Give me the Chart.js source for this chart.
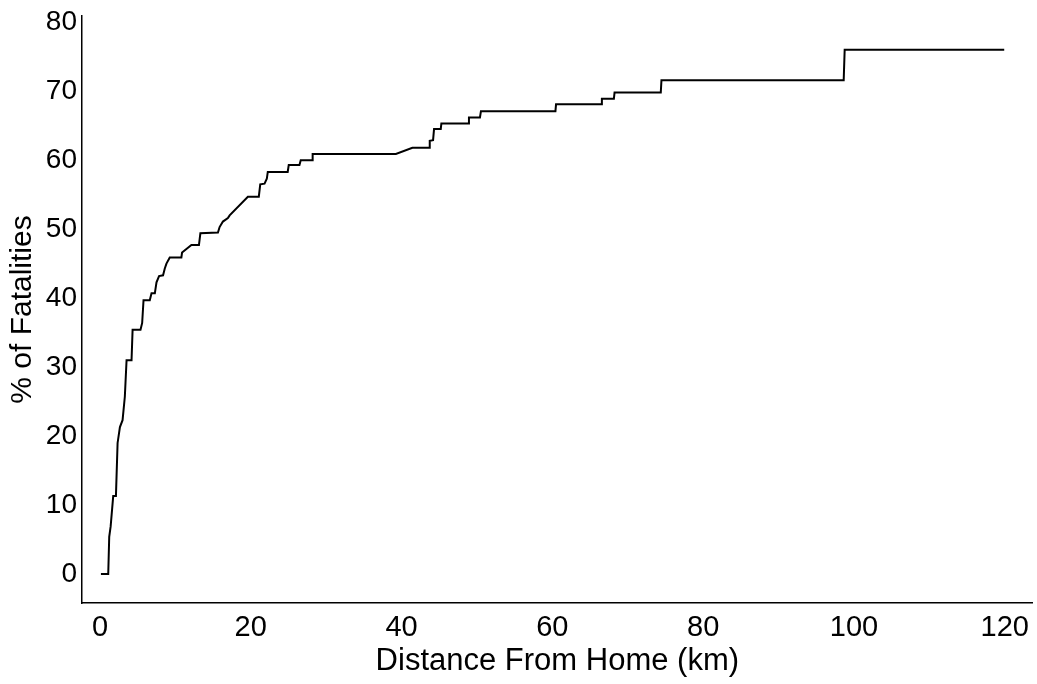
<!DOCTYPE html>
<html lang="en">
<head>
    <meta charset="UTF-8">
    <title>Fatalities by Distance From Home</title>
    <script src="https://cdn.jsdelivr.net/npm/chart.js"></script>
    <style>
        html, body { margin: 0; padding: 0; background: #fff; }
        #wrap { width: 1037px; height: 684px; }
    </style>
</head>
<body>
    <div id="wrap"><canvas id="distChart" width="1037" height="684"></canvas></div>

    <script>
        // cumulative curve vertices (km, % of fatalities)
        const distKm = [
            0.13, 1.1, 1.23, 1.42, 1.76, 2.12, 2.34, 2.65, 3.0, 3.3,
            3.53, 4.19, 4.33, 5.38, 5.6, 5.78, 6.61, 6.84, 7.28, 7.5,
            7.84, 8.37, 8.6, 8.82, 9.26, 10.8, 10.89, 12.13, 13.13, 13.32,
            15.65, 15.87, 16.31, 16.97, 17.2, 19.62, 21.07, 21.26, 21.83, 22.13,
            22.26, 24.9, 25.04, 26.46, 26.63, 28.13, 28.21, 39.25, 41.44, 43.65,
            43.74, 44.18, 44.31, 45.2, 45.28, 48.85, 48.94, 50.4, 50.53, 60.41,
            60.49, 66.5, 66.57, 68.16, 68.25, 74.38, 74.47, 98.64, 98.77, 119.93
        ];
        const pctFatal = [
            0, 0, 5.4, 6.9, 11.3, 11.3, 19.0, 21.3, 22.3, 25.7,
            31.0, 31.0, 35.4, 35.4, 36.4, 39.7, 39.7, 40.7, 40.7, 42.3,
            43.2, 43.3, 44.3, 45.0, 45.9, 45.9, 46.6, 47.7, 47.7, 49.4,
            49.5, 50.3, 51.1, 51.6, 52.0, 54.7, 54.7, 56.5, 56.6, 57.3,
            58.3, 58.3, 59.3, 59.3, 60.0, 60.0, 60.9, 60.9, 61.8, 61.8,
            62.8, 62.9, 64.5, 64.5, 65.3, 65.3, 66.2, 66.2, 67.1, 67.1,
            68.1, 68.1, 68.9, 68.9, 69.8, 69.8, 71.6, 71.6, 76.0, 76.0
        ];
        const xTicks = [0, 20, 40, 60, 80, 100, 120];
        const yTicks = [0, 10, 20, 30, 40, 50, 60, 70, 80];

        const points = distKm.map((d, i) => ({ x: d, y: pctFatal[i] }));
        const fontFam = "'Liberation Sans', Arial, sans-serif";

        const ctx = document.getElementById("distChart").getContext("2d");
        new Chart(ctx, {
            type: "scatter",
            data: {
                datasets: [{
                    data: points,
                    showLine: true,
                    borderColor: "#000",
                    borderWidth: 2,
                    pointRadius: 0,
                    tension: 0,
                    fill: false
                }]
            },
            options: {
                responsive: false,
                animation: false,
                layout: { padding: { top: 16, right: 2, left: 0, bottom: 0 } },
                plugins: { legend: { display: false }, tooltip: { enabled: false } },
                scales: {
                    x: {
                        type: "linear",
                        min: -2.38,
                        max: 123.7,
                        afterBuildTicks: s => { s.ticks = xTicks.map(v => ({ value: v })); },
                        afterFit: s => { s.height = 81; },
                        grid: { display: false, drawTicks: false },
                        border: { display: true, color: "#000", width: 1.5 },
                        ticks: { color: "#000", padding: 8, maxRotation: 0,
                                 font: { family: fontFam, size: 29 } },
                        title: { display: true, text: "Distance From Home (km)", color: "#000",
                                 padding: { top: 0, bottom: 4 },
                                 font: { family: fontFam, size: 31 } }
                    },
                    y: {
                        type: "linear",
                        min: -4.2,
                        max: 80.9,
                        afterBuildTicks: s => { s.ticks = yTicks.map(v => ({ value: v })); },
                        afterFit: s => { s.width = 82; s.paddingTop = 0; s.paddingBottom = 0; },
                        grid: { display: false, drawTicks: false },
                        border: { display: true, color: "#000", width: 1.5 },
                        ticks: { color: "#000", padding: 5,
                                 font: { family: fontFam, size: 28 } },
                        title: { display: true, text: "% of Fatalities", color: "#000",
                                 padding: { top: 5, bottom: 0 },
                                 font: { family: fontFam, size: 30 } }
                    }
                }
            }
        });
    </script>
</body>
</html>
